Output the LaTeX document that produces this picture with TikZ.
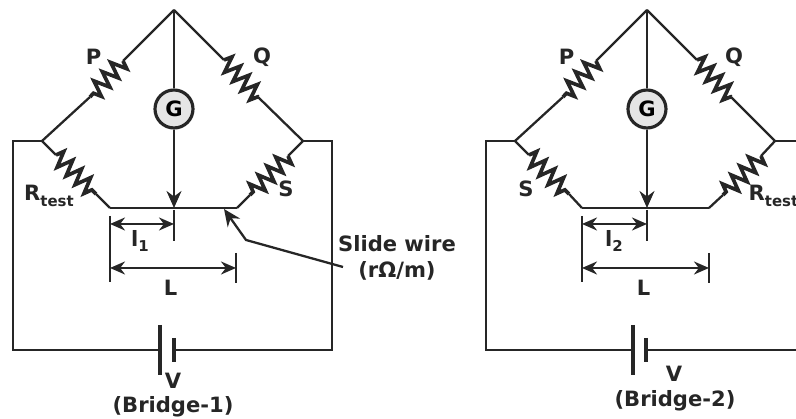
\documentclass[tikz,border=0pt]{standalone}
\usepackage{fontspec}
\setmainfont{DejaVu Sans}
\usetikzlibrary{arrows.meta, decorations.pathmorphing}
\definecolor{inkcol}{HTML}{262626}
\newcommand{\lowtext}[1]{\raisebox{-0.45ex}{\fontsize{8.5}{10}\selectfont #1}}
\tikzset{
wire/.style={draw=inkcol, line width=1.3pt},
res/.style={draw=inkcol, line width=2.1pt, decorate, decoration={zigzag, segment length=0.25cm, amplitude=0.16cm}},
dim/.style={draw=inkcol, line width=1.3pt, {Stealth[length=0.3cm,width=0.26cm]}-{Stealth[length=0.3cm,width=0.26cm]}},
tip/.style={draw=inkcol, line width=1.3pt, -{Stealth[length=0.34cm,width=0.3cm]}},
plate/.style={draw=inkcol, line width=2.2pt},
galvo/.style={circle, draw=inkcol, line width=1.8pt, fill=gray!20, minimum size=0.76cm, inner sep=0pt, font=\fontsize{12}{14}\bfseries},
lab/.style={text=inkcol, font=\fontsize{12}{14}\bfseries, inner sep=0pt}
}
\begin{document}
\begin{tikzpicture}
\useasboundingbox (0,0) rectangle (15.92,8.38);
% Bridge-1
\coordinate (apexa) at (3.48,8.18);
\coordinate (lefta) at (0.84,5.56);
\coordinate (righta) at (6.06,5.56);
\coordinate (slidela) at (2.2,4.22);
\coordinate (slidera) at (4.74,4.22);
\coordinate (contacta) at (3.48,4.22);
\coordinate (pina) at (2.46,7.16);
\coordinate (pouta) at (1.8,6.44);
\coordinate (qina) at (4.48,7.18);
\coordinate (qouta) at (5.16,6.44);
\coordinate (rina) at (1.12,5.28);
\coordinate (routa) at (1.92,4.5);
\coordinate (sina) at (5.76,5.26);
\coordinate (souta) at (5,4.48);
\node[galvo] (ga) at (3.48,6.2) {G};
\draw[wire] (apexa) -- (pina);
\draw[res] (pina) -- (pouta);
\draw[wire] (pouta) -- (lefta);
\draw[wire] (apexa) -- (qina);
\draw[res] (qina) -- (qouta);
\draw[wire] (qouta) -- (righta);
\draw[wire] (lefta) -- (rina);
\draw[res] (rina) -- (routa);
\draw[wire] (routa) -- (slidela);
\draw[wire] (righta) -- (sina);
\draw[res] (sina) -- (souta);
\draw[wire] (souta) -- (slidera);
\draw[wire] (slidela) -- (slidera);
\draw[wire] (apexa) -- (ga);
\draw[tip] (ga) -- (contacta);
% supply
\coordinate (cornerla) at (0.26,5.56);
\coordinate (cornerra) at (6.64,5.56);
\coordinate (batla) at (3.2,1.38);
\coordinate (batra) at (3.48,1.38);
\draw[wire] (lefta) -- (cornerla) |- (batla);
\draw[wire] (righta) -- (cornerra) |- (batra);
\draw[plate] (3.2,1.88) -- (3.2,0.88);
\draw[plate] (3.48,1.62) -- (3.48,1.14);
% lengths
\coordinate (tickla) at (2.2,4.06);
\coordinate (tickmida) at (3.48,4.18);
\coordinate (tickra) at (4.72,3.32);
\draw[wire] (tickla) -- (2.2,2.74);
\draw[wire] (tickmida) -- (3.48,3.56);
\draw[wire] (tickra) -- (4.72,2.72);
\coordinate (lstarta) at (2.2,3.9);
\coordinate (lenda) at (3.48,3.9);
\coordinate (wstarta) at (2.2,3.02);
\coordinate (wenda) at (4.72,3.02);
\draw[dim] (lstarta) -- (lenda);
\draw[dim] (wstarta) -- (wenda);
% pointer
\coordinate (pointa) at (6.86,3.04);
\coordinate (pointb) at (4.92,3.58);
\coordinate (pointc) at (4.48,4.2);
\draw[tip] (pointa) -- (pointb) -- (pointc);
% labels
\node[lab] (pa) at (1.87,7.24) {P};
\node[lab] (qa) at (5.24,7.24) {Q};
\node[lab] (rtesta) at (0.98,4.46) {R\lowtext{test}};
\node[lab] (sa) at (5.72,4.6) {S};
\node[lab] (la) at (2.8,3.56) {l\lowtext{1}};
\node[lab] (wa) at (3.41,2.62) {L};
\node[lab, align=center] (slidewire) at (7.94,3.22) {Slide wire\\[0.02cm](rΩ/m)};
\node[lab] (va) at (3.46,0.76) {V};
\node[lab] (bridgea) at (3.46,0.24) {(Bridge-1)};
% Bridge-2
\coordinate (apexb) at (12.94,8.18);
\coordinate (leftb) at (10.3,5.56);
\coordinate (rightb) at (15.5,5.56);
\coordinate (slidelb) at (11.64,4.22);
\coordinate (sliderb) at (14.18,4.22);
\coordinate (contactb) at (12.94,4.22);
\coordinate (pinb) at (11.92,7.16);
\coordinate (poutb) at (11.26,6.44);
\coordinate (qinb) at (13.94,7.18);
\coordinate (qoutb) at (14.62,6.44);
\coordinate (sinb) at (10.58,5.28);
\coordinate (soutb) at (11.38,4.5);
\coordinate (rinb) at (15.22,5.26);
\coordinate (routb) at (14.46,4.48);
\node[galvo] (gb) at (12.94,6.2) {G};
\draw[wire] (apexb) -- (pinb);
\draw[res] (pinb) -- (poutb);
\draw[wire] (poutb) -- (leftb);
\draw[wire] (apexb) -- (qinb);
\draw[res] (qinb) -- (qoutb);
\draw[wire] (qoutb) -- (rightb);
\draw[wire] (leftb) -- (sinb);
\draw[res] (sinb) -- (soutb);
\draw[wire] (soutb) -- (slidelb);
\draw[wire] (rightb) -- (rinb);
\draw[res] (rinb) -- (routb);
\draw[wire] (routb) -- (sliderb);
\draw[wire] (slidelb) -- (sliderb);
\draw[wire] (apexb) -- (gb);
\draw[tip] (gb) -- (contactb);
% supply
\coordinate (cornerlb) at (9.72,5.56);
\coordinate (cornerrb) at (15.92,5.56);
\coordinate (endrb) at (15.92,1.38);
\coordinate (batlb) at (12.66,1.38);
\coordinate (batrb) at (12.92,1.38);
\draw[wire] (leftb) -- (cornerlb) |- (batlb);
\draw[wire] (rightb) -- (cornerrb);
\draw[wire] (batrb) -- (endrb);
\draw[plate] (12.66,1.88) -- (12.66,0.88);
\draw[plate] (12.92,1.62) -- (12.92,1.14);
% lengths
\coordinate (ticklb) at (11.64,4.06);
\coordinate (tickmidb) at (12.94,4.18);
\coordinate (tickrb) at (14.18,3.32);
\draw[wire] (ticklb) -- (11.64,2.74);
\draw[wire] (tickmidb) -- (12.94,3.56);
\draw[wire] (tickrb) -- (14.18,2.72);
\coordinate (lstartb) at (11.64,3.9);
\coordinate (lendb) at (12.94,3.9);
\coordinate (wstartb) at (11.64,3.02);
\coordinate (wendb) at (14.18,3.02);
\draw[dim] (lstartb) -- (lendb);
\draw[dim] (wstartb) -- (wendb);
% labels
\node[lab] (pb) at (11.33,7.24) {P};
\node[lab] (qb) at (14.68,7.24) {Q};
\node[lab] (sb) at (10.52,4.6) {S};
\node[lab] (rtestb) at (15.47,4.46) {R\lowtext{test}};
\node[lab] (lb) at (12.28,3.56) {l\lowtext{2}};
\node[lab] (wb) at (12.87,2.62) {L};
\node[lab] (vb) at (13.48,0.9) {V};
\node[lab] (bridgeb) at (13.5,0.36) {(Bridge-2)};
\end{tikzpicture}
\end{document}
